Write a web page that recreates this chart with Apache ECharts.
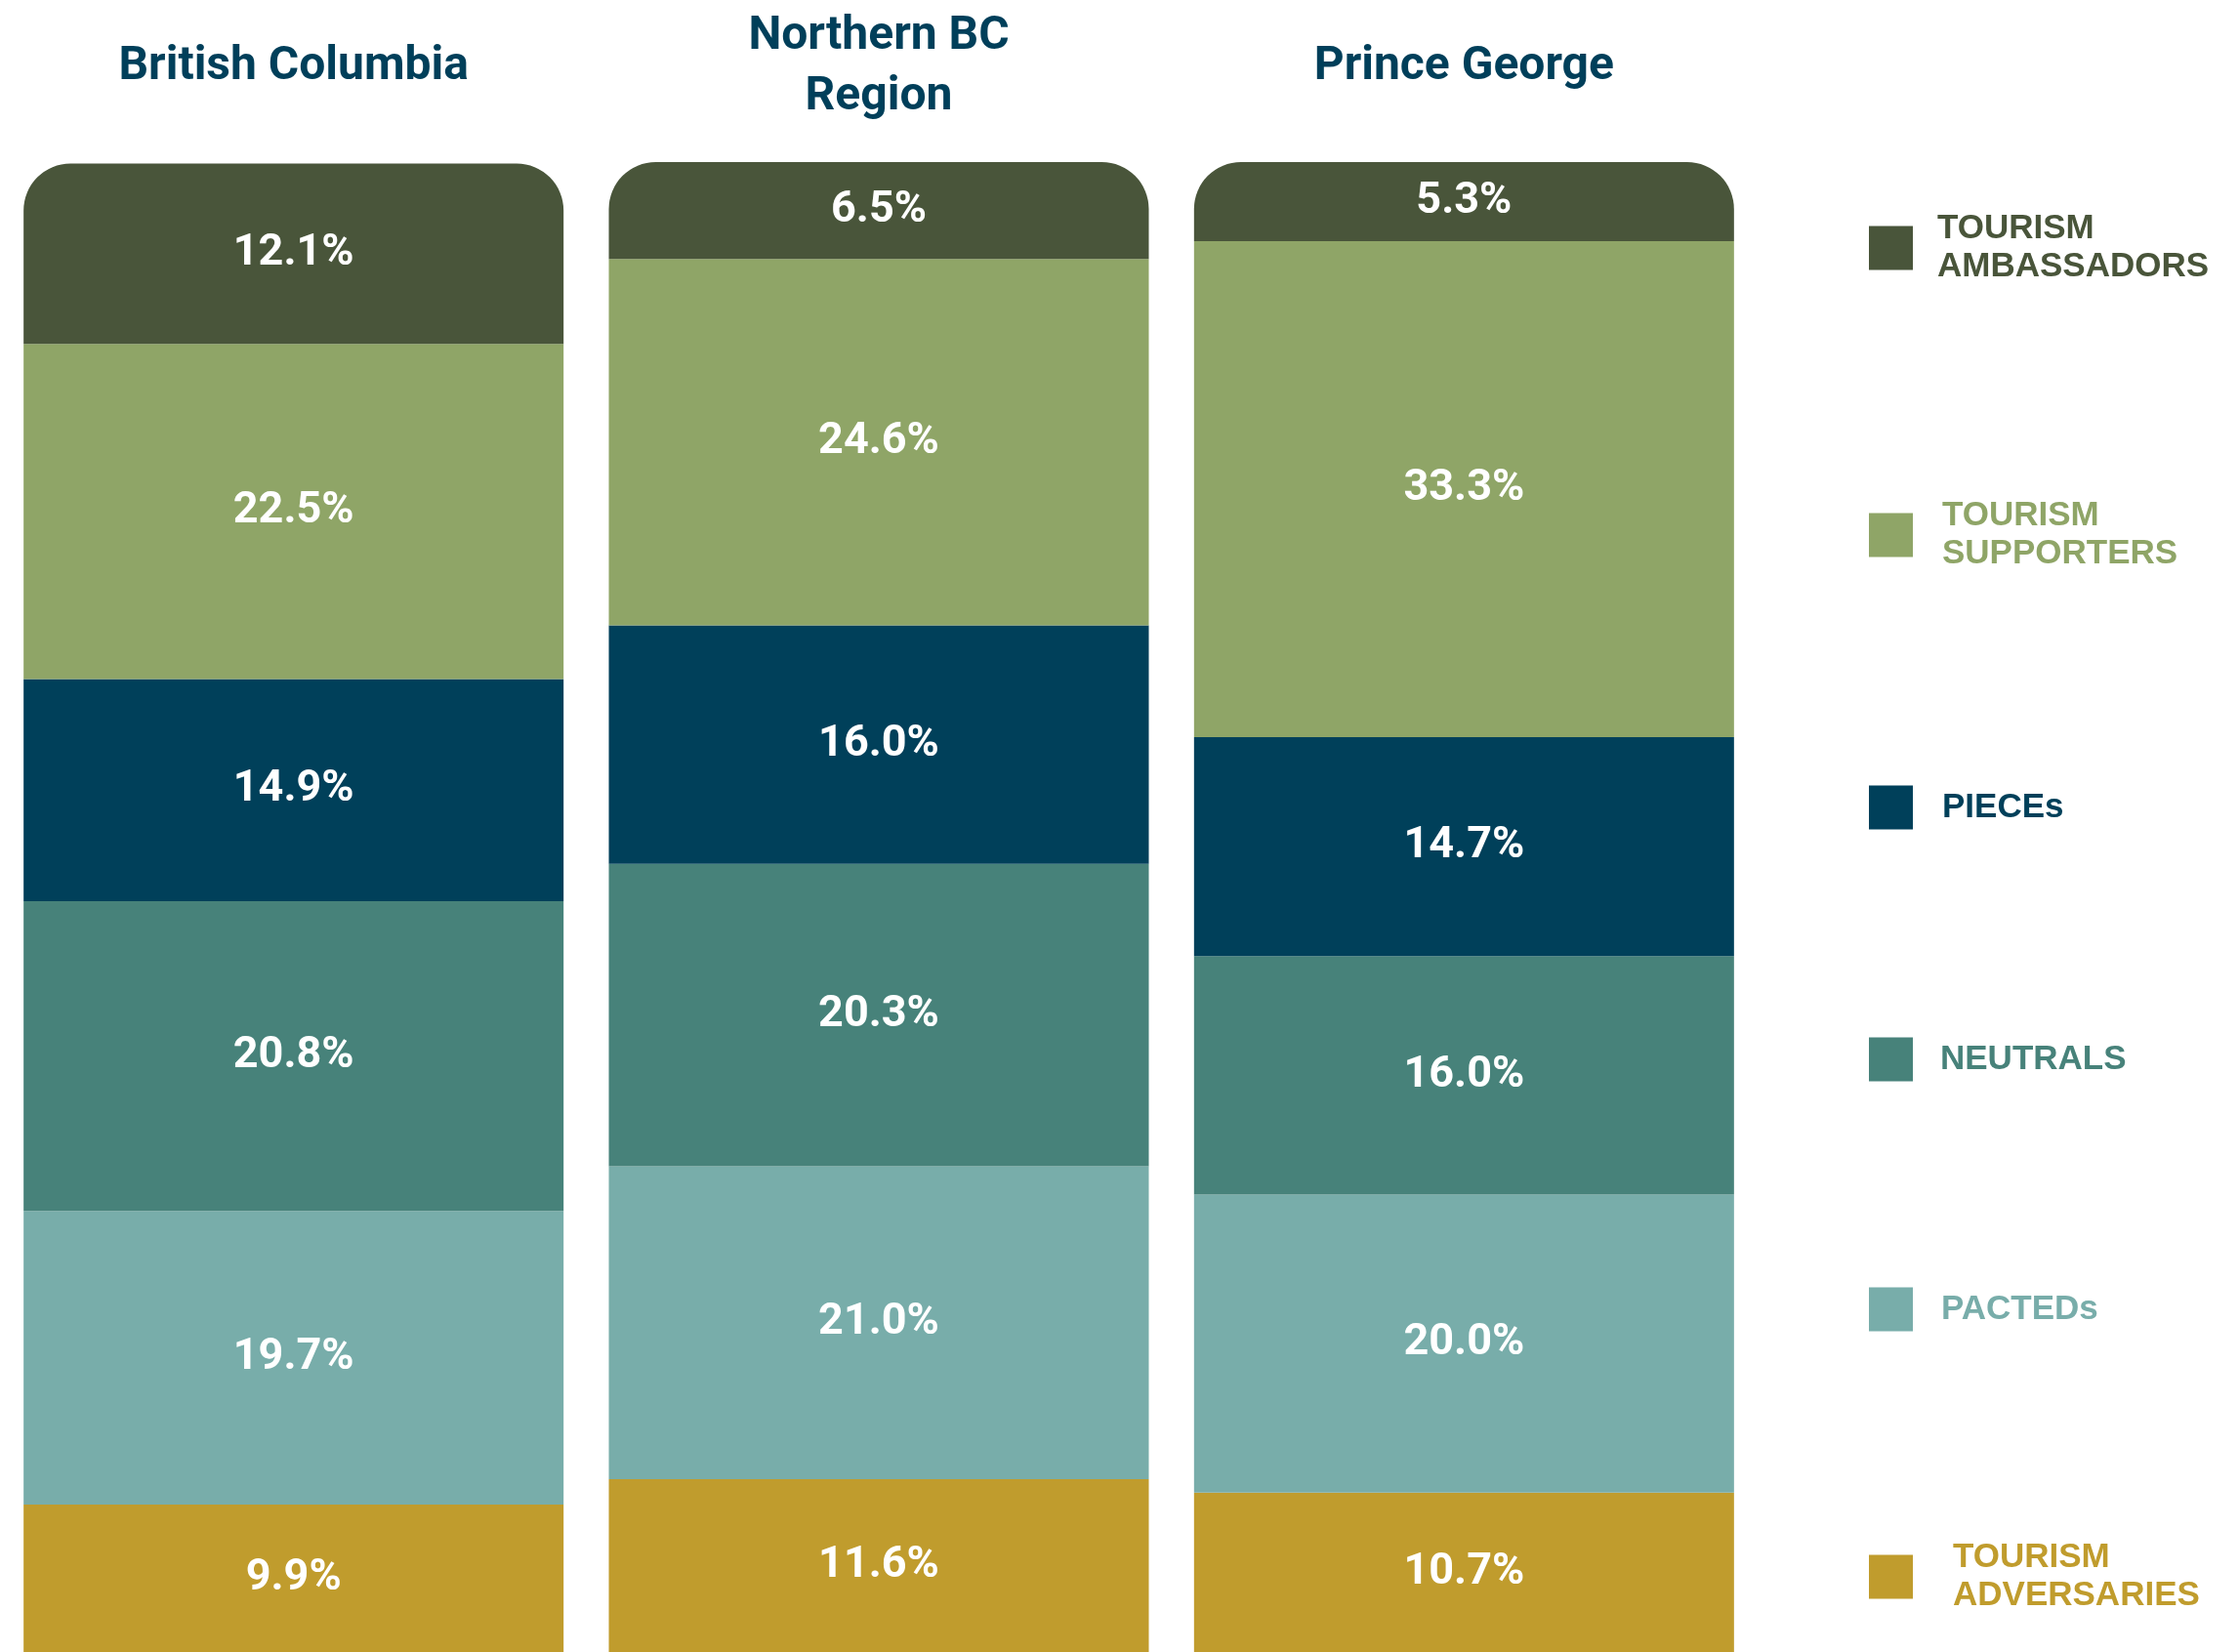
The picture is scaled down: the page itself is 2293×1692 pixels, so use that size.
<!DOCTYPE html>
<html>
<head>
<meta charset="utf-8">
<script src="https://cdn.jsdelivr.net/npm/echarts@6/dist/echarts.min.js"></script>
<style>
  html, body { margin: 0; padding: 0; background: #ffffff; }
  #chart { width: 2293px; height: 1692px; }
</style>
</head>
<body>
<div id="chart"></div>
<script>
const categories = ['British Columbia', 'Northern BC\nRegion', 'Prince George'];
const seriesNames = ['TOURISM ADVERSARIES', 'PACTEDs', 'NEUTRALS', 'PIECEs', 'TOURISM SUPPORTERS', 'TOURISM AMBASSADORS'];
const adversaries = [9.9, 11.6, 10.7];
const pacted = [19.7, 21.0, 20.0];
const neutrals = [20.8, 20.3, 16.0];
const pieces = [14.9, 16.0, 14.7];
const supporters = [22.5, 24.6, 33.3];
const ambassadors = [12.1, 6.5, 5.3];
const values = [adversaries, pacted, neutrals, pieces, supporters, ambassadors];
const colors = ['#C09C2D', '#78ADAA', '#47827A', '#00405A', '#8FA567', '#49553A'];

const labelFont = 'Roboto, "Liberation Sans", sans-serif';
const legendFont = '"Liberation Sans", Arial, sans-serif';

// legend layout (per item): vertical centre and text offset
const legendLayout = {
  'TOURISM AMBASSADORS': { center: 254, lines: 2, pad: 20 },
  'TOURISM SUPPORTERS': { center: 548, lines: 2, pad: 25 },
  'PIECEs': { center: 827, lines: 1, pad: 25 },
  'NEUTRALS': { center: 1085, lines: 1, pad: 23 },
  'PACTEDs': { center: 1341, lines: 1, pad: 24 },
  'TOURISM ADVERSARIES': { center: 1615, lines: 2, pad: 36 }
};
const ICON = 45, LH = 39;

const legends = seriesNames.map((name, i) => {
  const L = legendLayout[name];
  const top = L.lines === 2 ? L.center - LH : L.center - ICON / 2;
  return {
    orient: 'vertical',
    left: 1914,
    top: top,
    padding: 0,
    itemGap: 0,
    itemWidth: ICON,
    itemHeight: ICON,
    icon: 'rect',
    data: [name],
    formatter: n => n.replace(' ', '\n'),
    textStyle: {
      color: colors[i],
      fontFamily: legendFont,
      fontWeight: 'bold',
      fontSize: 35,
      lineHeight: LH,
      padding: [0, 0, 0, L.pad]
    }
  };
});

const series = seriesNames.map((name, i) => ({
  name: name,
  type: 'bar',
  stack: 'total',
  barWidth: 553,
  data: values[i],
  itemStyle: {
    color: colors[i],
    borderRadius: i === seriesNames.length - 1 ? [48, 48, 0, 0] : 0
  },
  label: {
    show: true,
    position: 'inside',
    color: '#ffffff',
    fontFamily: labelFont,
    fontWeight: 'bold',
    fontSize: 45,
    formatter: p => p.value.toFixed(1) + '%'
  },
  emphasis: { disabled: true }
}));

const chart = echarts.init(document.getElementById('chart'), null, { renderer: 'canvas' });
chart.setOption({
  backgroundColor: '#ffffff',
  animation: false,
  legend: legends,
  grid: { left: 1, top: 166, width: 1798, height: 1533, containLabel: false },
  xAxis: {
    type: 'category',
    position: 'top',
    data: categories,
    axisLine: { show: false },
    axisTick: { show: false },
    axisLabel: {
      margin: 97,
      verticalAlign: 'middle',
      color: '#003F5A',
      fontFamily: labelFont,
      fontWeight: 'bold',
      fontSize: 48,
      lineHeight: 62,
      interval: 0
    }
  },
  yAxis: { type: 'value', min: 0, max: 100, show: false },
  series: series
});
</script>
</body>
</html>
